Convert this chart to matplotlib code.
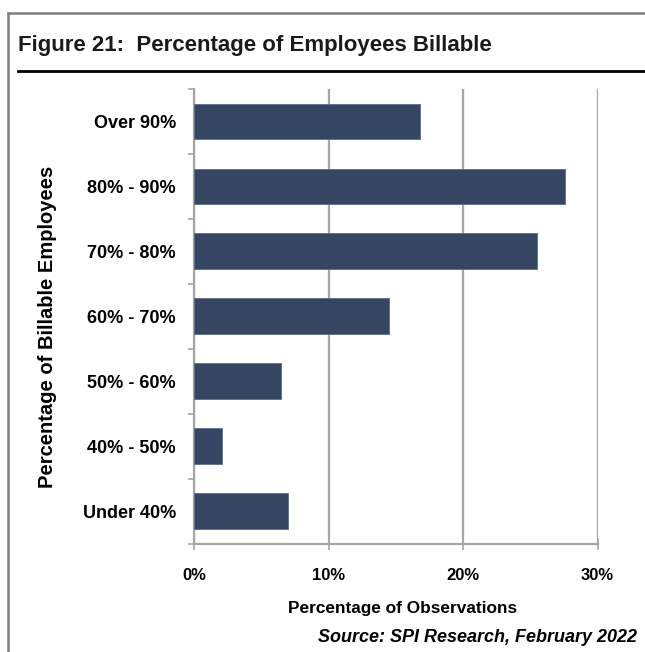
import matplotlib
matplotlib.use("Agg")
import matplotlib.pyplot as plt
from matplotlib.lines import Line2D
import numpy as np

categories = ["Over 90%", "80% - 90%", "70% - 80%", "60% - 70%",
              "50% - 60%", "40% - 50%", "Under 40%"]
values = [16.8, 27.6, 25.5, 14.5, 6.5, 2.1, 7.0]
x_ticks = [0, 10, 20, 30]
x_tick_labels = ["0%", "10%", "20%", "30%"]

FONT = ["Liberation Sans", "DejaVu Sans"]
BAR = "#344662"
GRID = "#a6a6a6"

W, H = 645, 652
fig = plt.figure(figsize=(W / 100, H / 100), dpi=100)
fig.patch.set_facecolor("white")

def fx(px):
    return px / W

def fy(py):
    return 1 - py / H

# frame and title rule
fig.add_artist(Line2D([fx(8), 1], [fy(13), fy(13)], color="#808080", lw=1.8,
                      transform=fig.transFigure))
fig.add_artist(Line2D([fx(8), fx(8)], [fy(13), 0], color="#808080", lw=1.8,
                      transform=fig.transFigure))
fig.add_artist(Line2D([fx(18), 1], [fy(71), fy(71)], color="black", lw=2.0,
                      transform=fig.transFigure))

fig.text(fx(18), fy(45), "Figure 21:  Percentage of Employees Billable",
         family=FONT, fontweight="bold", fontsize=16, color="#1a1a1a",
         ha="left", va="center")

ax = fig.add_axes([fx(194), fy(543.5), fx(597.5) - fx(194), fy(89) - fy(543.5)])
y = np.arange(len(categories))
ax.barh(y, values, height=0.55, color=BAR, edgecolor="#5b6d88", linewidth=0.6,
        zorder=3)
ax.set_xlim(0, 30)
ax.set_ylim(len(categories) - 0.5, -0.5)

ax.set_xticks(x_ticks)
ax.set_xticklabels(x_tick_labels, family=FONT, fontweight="bold", fontsize=12)
ax.tick_params(axis="x", direction="inout", length=9, width=1.2, color=GRID,
               pad=13)
ax.xaxis.grid(True, color=GRID, lw=1.6, zorder=0)

ax.set_yticks(np.arange(len(categories) + 1) - 0.5)
ax.set_yticklabels([])
ax.set_yticks(y, minor=True)
ax.set_yticklabels(categories, minor=True, family=FONT, fontweight="bold",
                   fontsize=13)
ax.tick_params(axis="y", which="major", direction="out", length=4.5, width=1.2,
               color=GRID)
ax.tick_params(axis="y", which="minor", length=0, pad=13)

for s in ("top", "right"):
    ax.spines[s].set_visible(False)
for s in ("left", "bottom"):
    ax.spines[s].set_color(GRID)
    ax.spines[s].set_linewidth(1.6)

fig.text(fx(48), fy(327), "Percentage of Billable Employees", family=FONT,
         fontweight="bold", fontsize=14.5, rotation=90, ha="center",
         va="center", color="black")
fig.text(fx(403), fy(608), "Percentage of Observations", family=FONT,
         fontweight="bold", fontsize=12.4, ha="center", va="center",
         color="black")
fig.text(fx(637), fy(637), "Source: SPI Research, February 2022", family=FONT,
         fontweight="bold", fontstyle="italic", fontsize=13, ha="right",
         va="center", color="black")

fig.savefig("out.png", dpi=100, facecolor="white")
